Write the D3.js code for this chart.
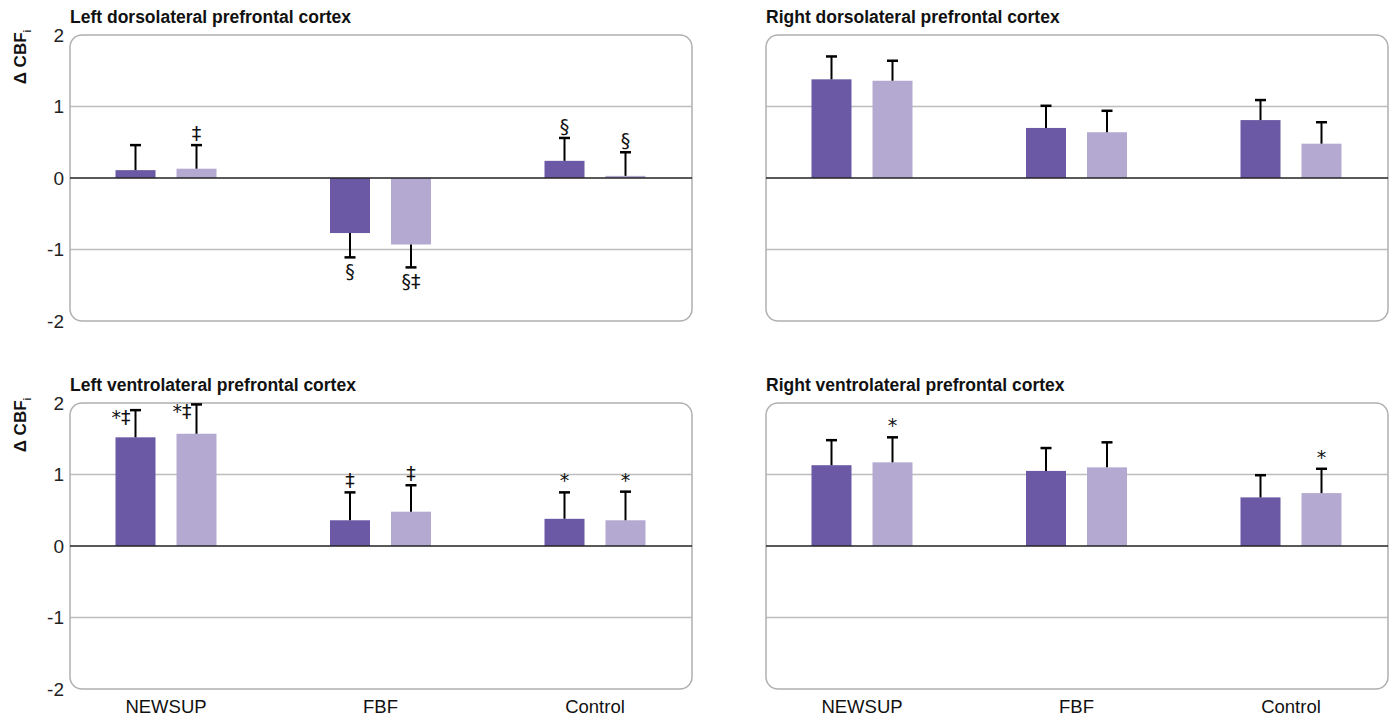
<!DOCTYPE html>
<html>
<head>
<meta charset="utf-8">
<script src="https://cdn.jsdelivr.net/npm/d3@7"></script>
<style>
  html, body { margin: 0; padding: 0; background: #fff; }
  svg { display: block; font-family: "Liberation Sans", Arial, sans-serif; }
</style>
</head>
<body>
<svg id="chart" width="1392" height="718"></svg>
<script>
// ---------------- data ----------------
const categories = ["NEWSUP", "FBF", "Control"];
const panelTitles = [
  "Left dorsolateral prefrontal cortex",
  "Right dorsolateral prefrontal cortex",
  "Left ventrolateral prefrontal cortex",
  "Right ventrolateral prefrontal cortex"
];
const yTicks = [2, 1, 0, -1, -2];
const yTickLabels = ["2", "1", "0", "-1", "-2"];

// series 1 (dark) and series 2 (light) means, per panel, per category
const darkValues = [
  [0.11, -0.77, 0.24],
  [1.38, 0.70, 0.81],
  [1.52, 0.36, 0.38],
  [1.13, 1.05, 0.68]
];
const lightValues = [
  [0.13, -0.93, 0.03],
  [1.36, 0.64, 0.48],
  [1.57, 0.48, 0.36],
  [1.17, 1.10, 0.74]
];
// one-sided error magnitudes
const darkErrors = [
  [0.35, 0.34, 0.32],
  [0.32, 0.31, 0.28],
  [0.38, 0.39, 0.37],
  [0.35, 0.32, 0.31]
];
const lightErrors = [
  [0.33, 0.32, 0.33],
  [0.28, 0.30, 0.30],
  [0.41, 0.37, 0.40],
  [0.35, 0.35, 0.34]
];
// significance markers
const darkMarks = [
  ["", "§", "§"],
  ["", "", ""],
  ["*‡", "‡", "*"],
  ["", "", ""]
];
const lightMarks = [
  ["‡", "§‡", "§"],
  ["", "", ""],
  ["*‡", "‡", "*"],
  ["*", "", "*"]
];

// ---------------- layout ----------------
const svg = d3.select("#chart");
const colDark = "#6b59a5";
const colLight = "#b4a9d1";
const panelW = 622, panelH = 286;
const panelOrigins = [
  {x: 70, y: 35}, {x: 766, y: 35},
  {x: 70, y: 403}, {x: 766, y: 403}
];
const barW = 40, barGap = 21;

panelTitles.forEach((title, p) => {
  const o = panelOrigins[p];
  const g = svg.append("g");

  const y = d3.scaleLinear().domain([-2, 2]).range([o.y + panelH, o.y]);
  const x = d3.scalePoint().domain(categories).range([o.x + 96, o.x + 525]);
  const half = barW + barGap / 2;
  const sub = d3.scaleBand().domain(["dark", "light"]).range([-half, half])
    .paddingInner(barGap / (barW + barGap)).paddingOuter(0);

  // title
  g.append("text")
    .attr("x", o.x).attr("y", o.y - 12)
    .attr("font-size", 17.5).attr("font-weight", "bold").attr("fill", "#111")
    .text(title);

  // gridlines (non-zero)
  g.selectAll("line.grid")
    .data(yTicks.filter(t => t !== 0 && Math.abs(t) !== 2))
    .join("line")
    .attr("x1", o.x).attr("x2", o.x + panelW)
    .attr("y1", d => y(d)).attr("y2", d => y(d))
    .attr("stroke", "#bdbdbd").attr("stroke-width", 1.5);

  // panel box with rounded corners
  g.append("rect")
    .attr("x", o.x).attr("y", o.y)
    .attr("width", panelW).attr("height", panelH)
    .attr("rx", 12).attr("ry", 12)
    .attr("fill", "none").attr("stroke", "#b0b0b0").attr("stroke-width", 1.5);

  // left axis tick labels on left panels only
  if (p % 2 === 0) {
    const axis = d3.axisLeft(y).tickValues(yTicks)
      .tickFormat((d, i) => yTickLabels[i]).tickSize(0).tickPadding(6);
    const ag = g.append("g").attr("transform", `translate(${o.x},0)`).call(axis);
    ag.select(".domain").remove();
    ag.selectAll("text").attr("font-size", 19).attr("fill", "#222")
      .attr("font-family", "'Liberation Sans', Arial, sans-serif");

    // y label
    const yl = g.append("text")
      .attr("transform", `translate(${o.x - 44},${o.y + 22}) rotate(-90)`)
      .attr("text-anchor", "middle")
      .attr("font-size", 17).attr("font-weight", "bold").attr("fill", "#111");
    yl.append("tspan").text("Δ CBF");
    yl.append("tspan").attr("font-size", 10).attr("dy", 5).text("i");
  }

  // bars
  const rows = [];
  categories.forEach((c, i) => {
    rows.push({cat: c, s: "dark", v: darkValues[p][i], e: darkErrors[p][i], m: darkMarks[p][i], col: colDark});
    rows.push({cat: c, s: "light", v: lightValues[p][i], e: lightErrors[p][i], m: lightMarks[p][i], col: colLight});
  });
  const bx = d => x(d.cat) + sub(d.s);

  g.selectAll("rect.bar").data(rows).join("rect")
    .attr("x", bx).attr("width", sub.bandwidth())
    .attr("y", d => Math.min(y(d.v), y(0)))
    .attr("height", d => Math.abs(y(d.v) - y(0)))
    .attr("fill", d => d.col);

  // zero line
  g.append("line")
    .attr("x1", o.x).attr("x2", o.x + panelW)
    .attr("y1", y(0)).attr("y2", y(0))
    .attr("stroke", "#222").attr("stroke-width", 1.5);

  // error bars (one-sided, away from zero)
  const tip = d => y(d.v >= 0 ? d.v + d.e : d.v - d.e);
  const cx = d => bx(d) + sub.bandwidth() / 2;
  g.selectAll("line.err").data(rows).join("line")
    .attr("x1", cx).attr("x2", cx)
    .attr("y1", d => y(d.v)).attr("y2", tip)
    .attr("stroke", "#000").attr("stroke-width", 2);
  g.selectAll("line.cap").data(rows).join("line")
    .attr("x1", d => cx(d) - 5.5).attr("x2", d => cx(d) + 5.5)
    .attr("y1", tip).attr("y2", tip)
    .attr("stroke", "#000").attr("stroke-width", 2.5);

  // significance marks
  g.selectAll("text.mark").data(rows.filter(d => d.m)).join("text")
    .attr("font-size", 19).attr("fill", "#111")
    .attr("font-family", "'DejaVu Sans', sans-serif")
    .attr("text-anchor", d => (d.v + d.e > 1.75 ? "end" : "middle"))
    .attr("x", d => (d.v + d.e > 1.75 ? cx(d) - 5 : cx(d)))
    .attr("y", d => {
      if (d.v < 0) return tip(d) + 21;
      if (d.v + d.e > 1.75) return tip(d) + 14;
      return tip(d) - 5;
    })
    .text(d => d.m);

  // category labels on bottom panels
  if (p >= 2) {
    g.selectAll("text.cat").data(categories).join("text")
      .attr("x", d => x(d)).attr("y", o.y + panelH + 24)
      .attr("text-anchor", "middle").attr("font-size", 18.5).attr("fill", "#111")
      .text(d => d);
  }
});
</script>
</body>
</html>
